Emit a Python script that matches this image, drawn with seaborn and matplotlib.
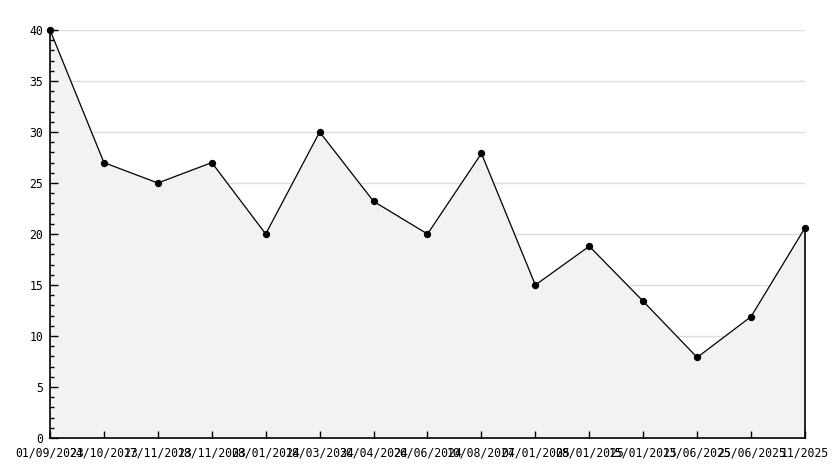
import numpy as np
import pandas as pd
import matplotlib
matplotlib.use("Agg")
import matplotlib.pyplot as plt
import seaborn as sns
from matplotlib.ticker import MultipleLocator

# data
dates = ["01/09/2023", "24/10/2023", "17/11/2023", "18/11/2023", "08/01/2024",
         "18/03/2024", "30/04/2024", "26/06/2024", "10/08/2024", "07/01/2025",
         "08/01/2025", "15/01/2025", "13/06/2025", "25/06/2025", "11/2025"]
values = [40, 27, 25, 27, 20, 30, 23.2, 20, 27.9, 15, 18.8, 13.4, 7.9, 11.9, 20.6]

df = pd.DataFrame({"pos": range(len(values)), "value": values})

plt.rcParams["font.family"] = ["DejaVu Sans Mono", "DejaVu Sans"]

fig = plt.figure(figsize=(8.34, 4.68), dpi=100)
ax = fig.add_axes([50 / 834, 30 / 468, 755 / 834, 408 / 468])

# light gray gridlines at the back, area fill covers them
for yv in range(5, 41, 5):
    ax.axhline(yv, color="#dddddd", lw=1, zorder=0.5)

ax.fill_between(df["pos"], df["value"], 0, color="#f2f2f2", zorder=1)
ax.plot([df["pos"].iloc[-1]] * 2, [0, values[-1]], color="black", lw=1.2,
        zorder=2, clip_on=False)

sns.lineplot(data=df, x="pos", y="value", ax=ax, color="black", lw=0.9,
             marker="o", markersize=4.5, markeredgecolor="black", zorder=3,
             clip_on=False)

ax.set_xlim(0, len(values) - 1)
ax.set_ylim(0, 40)
ax.yaxis.set_major_locator(MultipleLocator(5))
ax.yaxis.set_minor_locator(MultipleLocator(1))
ax.set_xticks(df["pos"])
ax.set_xticklabels(dates)

for s in ["top", "right"]:
    ax.spines[s].set_visible(False)
for s in ["left", "bottom"]:
    ax.spines[s].set_color("black")
    ax.spines[s].set_linewidth(1.2)
    ax.spines[s].set_zorder(4)

ax.tick_params(axis="y", which="major", direction="in", length=6, width=1,
               labelsize=8.3, pad=5, left=True, color="black")
ax.tick_params(axis="y", which="minor", direction="in", length=3, width=1,
               left=True, color="black")
ax.tick_params(axis="x", direction="in", length=5, width=1, labelsize=8.3, pad=6,
               bottom=True, color="black")
ax.set_xlabel("")
ax.set_ylabel("")

fig.savefig("out.png", dpi=100)
